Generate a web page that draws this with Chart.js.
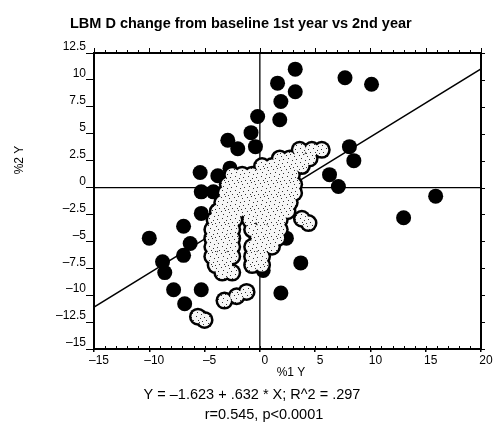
<!DOCTYPE html>
<html>
<head>
<meta charset="utf-8">
<script src="https://cdn.jsdelivr.net/npm/chart.js@4.4.0/dist/chart.umd.min.js"></script>
<style>
  html, body { margin: 0; padding: 0; background: #fff; }
  #wrap { width: 495px; height: 445px; }
</style>
</head>
<body>
<div id="wrap"><canvas id="lbmd" width="495" height="445"></canvas></div>
<script>
// axis ticks (% change)
const xTicks = [-15, -10, -5, 0, 5, 10, 15, 20];
const yTicks = [12.5, 10, 7.5, 5, 2.5, 0, -2.5, -5, -7.5, -10, -12.5, -15];

// least squares fit: Y = a + b * X
const fitIntercept = -1.623;
const fitSlope = 0.632;

// single subjects (%1 Y, %2 Y)
const dotX = [3.2, 1.6, 3.2, 1.9, 1.8, -0.2, 7.7, 10.1, 8.1, 8.5, 6.3, 7.1, 15.9, 13.0,
  -0.8, -2.9, -2.0, -0.4, -5.4, -3.8, -2.7, -5.3, -4.2, -5.3, -6.9, -10.0, -6.3, -6.9,
  -8.8, -8.6, -7.8, -5.3, -6.8, 1.9, 3.7, 2.4, 0.3];
const dotY = [11.0, 9.7, 8.9, 8.0, 6.3, 6.6, 10.2, 9.6, 3.8, 2.5, 1.2, 0.1, -0.8, -2.8,
  5.1, 4.4, 3.6, 3.8, 1.4, 1.1, 1.8, -0.4, -0.4, -2.4, -3.6, -4.7, -5.2, -6.3,
  -6.9, -7.9, -9.5, -9.5, -10.8, -9.8, -7.0, -4.7, -7.7];

// overlapping subjects around the origin
const clumpX = [
  3.6, 4.7, 5.6,
  1.8, 2.7, 3.6, 4.5,
  0.2, 1.1, 2.0, 2.9, 3.8,
  -2.5, -1.6, -0.7, 0.2, 1.1, 2.0, 2.9,
  -2.9, -2.0, -1.1, -0.2, 0.7, 1.6, 2.5, 3.1,
  -3.1, -2.2, -1.3, -0.4, 0.5, 1.4, 2.3, 3.1,
  -3.4, -2.5, -1.6, -0.7, 0.2, 1.1, 2.0, 2.7,
  -3.8, -2.9, -2.0, -1.1, -0.2, 0.7, 1.6, 2.5,
  -4.1, -3.2, -2.3, -0.9, 0.2, 1.1, 1.8,
  -4.3, -3.4, -2.5, -0.7, 0.2, 1.1, 1.8,
  -4.3, -3.4, -2.5, -0.2, 0.7, 1.6,
  -4.3, -3.4, -2.5, -0.7, 0.2, 1.1,
  -4.3, -3.4, -2.5, -0.7, 0.2,
  -4.0, -3.1, -0.7, 0.2,
  -3.4, -2.5,
  -5.6, -5.0, -3.2, -2.1, -1.2, 3.8, 4.4];
const clumpY = [
  3.5, 3.5, 3.5,
  2.7, 2.7, 2.7, 2.7,
  2.0, 2.0, 2.0, 2.0, 2.0,
  1.2, 1.2, 1.2, 1.2, 1.2, 1.2, 1.2,
  0.3, 0.3, 0.3, 0.3, 0.3, 0.3, 0.3, 0.3,
  -0.5, -0.5, -0.5, -0.5, -0.5, -0.5, -0.5, -0.5,
  -1.4, -1.4, -1.4, -1.4, -1.4, -1.4, -1.4, -1.4,
  -2.2, -2.2, -2.2, -2.2, -2.2, -2.2, -2.2, -2.2,
  -3.0, -3.0, -3.0, -3.0, -3.0, -3.0, -3.0,
  -3.9, -3.9, -3.9, -3.9, -3.9, -3.9, -3.9,
  -4.7, -4.7, -4.7, -4.7, -4.7, -4.7,
  -5.5, -5.5, -5.5, -5.5, -5.5, -5.5,
  -6.4, -6.4, -6.4, -6.4, -6.4,
  -7.2, -7.2, -7.2, -7.2,
  -7.9, -7.9,
  -12.0, -12.3, -10.5, -10.1, -9.7, -2.9, -3.3];

const xMin = xTicks[0], xMax = xTicks[xTicks.length - 1];
const yMin = yTicks[yTicks.length - 1], yMax = yTicks[0];

const toPoints = (xs, ys) => xs.map((x, i) => ({ x: x, y: ys[i] }));
const dash = (v) => String(v).replace("-", "\u2013");

// sparse speckle used inside overlapping markers
const speckles = [[0, 1], [4, 0], [8, 2], [2, 4], [10, 5], [6, 6], [1, 8], [9, 9], [5, 10], [3, 12], [11, 12], [7, 13]];
function stipple() {
  const c = document.createElement("canvas");
  c.width = 13;
  c.height = 14;
  const g = c.getContext("2d");
  g.fillStyle = "#f6f6f6";
  g.fillRect(0, 0, c.width, c.height);
  g.fillStyle = "#333";
  speckles.forEach(([px, py]) => g.fillRect(px, py, 1, 1));
  return g.createPattern(c, "repeat");
}

Chart.defaults.font.family = "'Liberation Sans', Arial, sans-serif";
Chart.defaults.font.size = 12;
Chart.defaults.color = "#000";

// top/right frame plus the small ticks along it
const framePlugin = {
  id: "frame",
  afterDraw(chart) {
    const { ctx, chartArea: a, scales } = chart;
    const x = scales.x, y = scales.y;
    ctx.save();
    ctx.strokeStyle = "#000";
    ctx.lineWidth = 2;
    ctx.beginPath();
    ctx.moveTo(a.left - 1, a.top);
    ctx.lineTo(a.right + 1, a.top);
    ctx.moveTo(a.right, a.top);
    ctx.lineTo(a.right, a.bottom);
    ctx.stroke();

    ctx.lineWidth = 1;
    ctx.beginPath();
    for (let v = xMin; v <= xMax; v++) {
      const px = Math.round(x.getPixelForValue(v)) + 0.5;
      ctx.moveTo(px, a.top);
      ctx.lineTo(px, a.top - (v % 5 === 0 ? 5 : 3));
      ctx.moveTo(px, a.bottom);
      ctx.lineTo(px, a.bottom - 3);
    }
    yTicks.forEach((v) => {
      const py = Math.round(y.getPixelForValue(v)) + 0.5;
      ctx.moveTo(a.right, py);
      ctx.lineTo(a.right + 4, py);
    });
    ctx.stroke();
    ctx.restore();
  },
};

// title, axis names and fit summary
const textPlugin = {
  id: "labels",
  afterDraw(chart) {
    const ctx = chart.ctx;
    const fam = "'Liberation Sans', Arial, sans-serif";
    ctx.save();
    ctx.fillStyle = "#000";
    ctx.textBaseline = "middle";

    ctx.font = "bold 14.5px " + fam;
    ctx.textAlign = "left";
    ctx.fillText("LBM D change from baseline 1st year vs 2nd year", 70, 24);

    ctx.textAlign = "center";
    ctx.font = "12px " + fam;
    ctx.fillText("%1 Y", 291, 373);

    ctx.font = "14.5px " + fam;
    ctx.fillText("Y = \u20131.623 + .632 * X; R^2 = .297", 252, 395);
    ctx.fillText("r=0.545, p<0.0001", 264, 415);

    ctx.translate(20, 160);
    ctx.rotate(-Math.PI / 2);
    ctx.font = "12px " + fam;
    ctx.fillText("%2 Y", 0, 0);
    ctx.restore();
  },
};

new Chart(document.getElementById("lbmd"), {
  type: "scatter",
  data: {
    datasets: [
      {
        type: "line",
        data: [{ x: 0, y: yMin }, { x: 0, y: yMax }],
        borderColor: "#000",
        borderWidth: 1.3,
        pointRadius: 0,
        order: 3,
      },
      {
        type: "line",
        data: [{ x: xMin, y: 0 }, { x: xMax, y: 0 }],
        borderColor: "#000",
        borderWidth: 1.3,
        pointRadius: 0,
        order: 3,
      },
      {
        type: "line",
        data: [
          { x: xMin, y: fitIntercept + fitSlope * xMin },
          { x: xMax, y: fitIntercept + fitSlope * xMax },
        ],
        borderColor: "#000",
        borderWidth: 1.5,
        pointRadius: 0,
        order: 3,
      },
      {
        data: toPoints(dotX, dotY),
        backgroundColor: "#000",
        borderWidth: 0,
        pointRadius: 7.5,
        order: 1,
      },
      {
        data: toPoints(clumpX, clumpY),
        backgroundColor: "#000",
        borderWidth: 0,
        pointRadius: 9,
        order: 1,
      },
      {
        data: toPoints(clumpX, clumpY),
        backgroundColor: stipple(),
        borderWidth: 0,
        pointRadius: 6.5,
        order: 0,
      },
    ],
  },
  options: {
    responsive: false,
    animation: false,
    events: [],
    layout: { padding: { top: 53, right: 14, left: 0, bottom: 0 } },
    plugins: {
      legend: { display: false },
      tooltip: { enabled: false },
    },
    scales: {
      x: {
        type: "linear",
        min: xMin,
        max: xMax,
        afterFit: (s) => { s.height = 96; },
        afterBuildTicks: (s) => { s.ticks = xTicks.map((v) => ({ value: v })); },
        grid: { drawOnChartArea: false, tickLength: 3, color: "#000", lineWidth: 1.5 },
        border: { color: "#000", width: 2 },
        ticks: { padding: 1, labelOffset: 5, callback: dash, maxRotation: 0 },
      },
      y: {
        type: "linear",
        min: yMin,
        max: yMax,
        afterFit: (s) => { s.width = 94; },
        afterBuildTicks: (s) => { s.ticks = yTicks.map((v) => ({ value: v })); },
        grid: { drawOnChartArea: false, tickLength: 8, color: "#000", lineWidth: 1 },
        border: { color: "#000", width: 2 },
        ticks: { padding: 0, labelOffset: -6, callback: dash },
      },
    },
  },
  plugins: [framePlugin, textPlugin],
});
</script>
</body>
</html>
